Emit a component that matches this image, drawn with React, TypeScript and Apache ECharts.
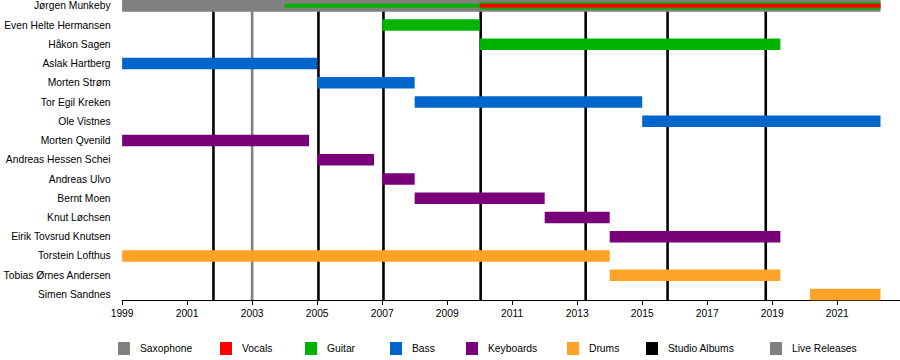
import React, { useEffect, useRef } from "react";
import * as echarts from "echarts";

const members = [
  "Jørgen Munkeby",
  "Even Helte Hermansen",
  "Håkon Sagen",
  "Aslak Hartberg",
  "Morten Strøm",
  "Tor Egil Kreken",
  "Ole Vistnes",
  "Morten Qvenild",
  "Andreas Hessen Schei",
  "Andreas Ulvo",
  "Bernt Moen",
  "Knut Løchsen",
  "Eirik Tovsrud Knutsen",
  "Torstein Lofthus",
  "Tobias Ørnes Andersen",
  "Simen Sandnes",
];

const END = 2022.33;

// [memberIndex, start, end]
const saxophone = [[0, 1999, END]];
const vocals = [[0, 2010, END]];
const guitar = [
  [0, 2004, 2010],
  [0, 2010, END],
  [1, 2007, 2010],
  [2, 2010, 2019.25],
];
const bass = [
  [3, 1999, 2005],
  [4, 2005, 2008],
  [5, 2008, 2015],
  [6, 2015, END],
];
const keyboards = [
  [7, 1999, 2004.75],
  [8, 2005, 2006.75],
  [9, 2007, 2008],
  [10, 2008, 2012],
  [11, 2012, 2014],
  [12, 2014, 2019.25],
];
const drums = [
  [13, 1999, 2014],
  [14, 2014, 2019.25],
  [15, 2020.16, END],
];

const studioAlbums = [2001.81, 2005.04, 2007.04, 2010.03, 2013.26, 2015.78, 2018.8];
const liveReleases = [2003.0];

const tickYears = [1999, 2001, 2003, 2005, 2007, 2009, 2011, 2013, 2015, 2017, 2019, 2021];
const rowIndices = members.map((_, i) => i);

const FONT = "'Liberation Sans', Arial, sans-serif";
const FS = 10.3;

const colors: Record<string, string> = {
  Saxophone: "#808080",
  Vocals: "#ff0000",
  Guitar: "#00b300",
  Bass: "#0066cc",
  Keyboards: "#7a007a",
  Drums: "#ffa228",
  "Studio Albums": "#000000",
  "Live Releases": "#808080",
};

const legendOrder = ["Saxophone", "Vocals", "Guitar", "Bass", "Keyboards", "Drums", "Studio Albums", "Live Releases"];
const legendLeft = [118, 220, 305, 390, 466, 567, 646, 770];

function barThickness(name: string, row: number, start: number) {
  if (row === 0) {
    if (name === "Saxophone") return 11.7;
    if (name === "Vocals") return 4;
    if (name === "Guitar") return start < 2010 ? 4 : 7.3;
  }
  return 11.5;
}

function barSeries(name: string, data: number[][]) {
  return {
    type: "custom",
    name,
    z: 3,
    itemStyle: { color: colors[name] },
    encode: { x: [1, 2], y: 0 },
    data,
    renderItem: (params: any, api: any) => {
      const row = api.value(0);
      const start = api.value(1);
      const s = api.coord([start, row]);
      const e = api.coord([api.value(2), row]);
      const h = barThickness(name, row, start);
      return {
        type: "rect",
        shape: { x: s[0], y: s[1] - h / 2, width: e[0] - s[0], height: h },
        style: { fill: colors[name] },
      };
    },
  };
}

function lineSeries(name: string, data: number[]) {
  return {
    type: "custom",
    name,
    z: 1,
    itemStyle: { color: colors[name] },
    encode: { x: 0 },
    data: data.map((v) => [v]),
    renderItem: (params: any, api: any) => {
      const v = api.value(0);
      const p = api.coord([v, 0]);
      const cs = params.coordSys;
      return {
        type: "line",
        shape: { x1: p[0], y1: cs.y, x2: p[0], y2: cs.y + cs.height },
        style: { stroke: colors[name], lineWidth: 2.6 },
      };
    },
  };
}

export default function App() {
  const ref = useRef<HTMLDivElement>(null);
  useEffect(() => {
    if (!ref.current) return;
    const chart = echarts.init(ref.current, undefined, { renderer: "svg" });
    const option: any = {
      animation: false,
      backgroundColor: "#ffffff",
      textStyle: { fontFamily: FONT },
      grid: { left: 120.7, right: 0, top: 0, bottom: 60, containLabel: false },
      xAxis: {
        type: "value",
        min: 1999,
        max: 2022.93,
        splitLine: { show: false },
        axisLine: { show: true, onZero: false, lineStyle: { color: "#000", width: 1 } },
        axisTick: { show: true, length: 5, lineStyle: { color: "#000" }, customValues: tickYears },
        axisLabel: {
          customValues: tickYears,
          color: "#000",
          fontSize: FS,
          fontFamily: FONT,
          margin: 8,
          formatter: (v: number) => String(Math.round(v)),
        },
      },
      yAxis: {
        type: "value",
        inverse: true,
        min: -0.304,
        max: 15.289,
        axisLine: { show: false },
        axisTick: { show: false },
        splitLine: { show: false },
        axisLabel: {
          customValues: rowIndices,
          color: "#000",
          fontSize: FS,
          fontFamily: FONT,
          margin: 11.5,
          formatter: (v: number) => members[Math.round(v)] ?? "",
        },
      },
      legend: legendOrder.map((name, i) => ({
        data: [{ name, icon: "rect", itemStyle: { color: colors[name] } }],
        left: legendLeft[i],
        top: 342,
        padding: 0,
        itemWidth: 12,
        itemHeight: 13,
        selectedMode: false,
        textStyle: { color: "#000", fontSize: FS, fontFamily: FONT, padding: [1, 0, 0, 5] },
      })),
      series: [
        lineSeries("Studio Albums", studioAlbums),
        lineSeries("Live Releases", liveReleases),
        barSeries("Saxophone", saxophone),
        barSeries("Guitar", guitar),
        barSeries("Vocals", vocals),
        barSeries("Bass", bass),
        barSeries("Keyboards", keyboards),
        barSeries("Drums", drums),
      ],
    };
    chart.setOption(option);
    return () => chart.dispose();
  }, []);
  return (
    <div
      ref={ref}
      style={{ position: "absolute", left: 0, top: 0, width: 900, height: 360, background: "#fff" }}
    />
  );
}
